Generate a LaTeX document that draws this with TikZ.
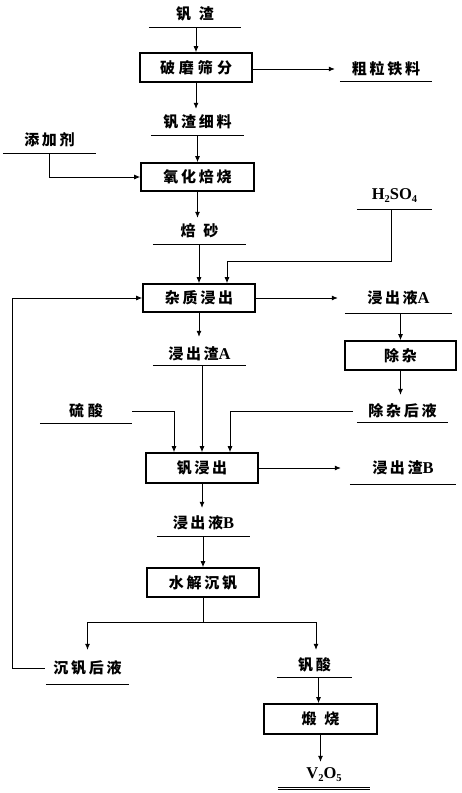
\documentclass[tikz,border=0pt]{standalone}
\usepackage{fontspec}
\usetikzlibrary{arrows.meta}
\setmainfont{Liberation Serif}
\newfontfamily\cjk[LetterSpace=18]{Noto Sans CJK SC}
\newcommand\cjkf{\fontsize{15}{15}\selectfont\cjk\bfseries}
\newcommand\lat[1]{{\fontsize{16.5}{16.5}\selectfont\rmfamily\bfseries #1}}
\newcommand\sbs[1]{\raisebox{-3pt}{\fontsize{10.5}{10.5}\selectfont\rmfamily\bfseries #1}}
\begin{document}
\begin{tikzpicture}[x=1pt,y=-1pt,
  proc/.style={draw, line width=1.7pt, minimum width=112pt, minimum height=29pt, inner sep=0pt, font=\cjkf},
  mat/.style={inner sep=0pt, font=\cjkf},
  arr/.style={-{Latex[length=6pt,width=5pt]}, line width=0.8pt},
  ln/.style={line width=0.8pt}]
\useasboundingbox[fill=white] (0,0) rectangle (461,793);
% process boxes
\node[proc] (b1) at (196,67.5) {破\hspace{4pt}磨\hspace{4pt}筛\hspace{4pt}分};
\node[proc, minimum width=113pt, minimum height=28pt] (b2) at (197.5,177) {氧化焙烧};
\node[proc, minimum height=28pt] (b3) at (199,298) {杂质浸出};
\node[proc, minimum width=111pt] (b4) at (400.5,355.5) {除杂};
\node[proc, minimum height=30pt] (b5) at (202,468) {钒浸出};
\node[proc] (b6) at (203,582.5) {水解沉钒};
\node[proc, minimum width=113pt, minimum height=30pt] (b7) at (320.5,719) {煅\hspace{8pt}烧};
% material labels
\node[mat, minimum width=92pt, minimum height=26pt] (v0) at (195,14) {钒\hspace{8pt}渣};
\node[mat, minimum width=92pt, minimum height=24pt] (coarse) at (386,69) {粗粒铁料};
\node[mat, minimum width=93pt, minimum height=26pt] (fine) at (197.5,122) {钒渣细料};
\node[mat, minimum width=93pt, minimum height=26pt] (add) at (49.5,140) {添加剂};
\node[mat, minimum width=75pt, minimum height=26pt] (h2so4) at (394.5,196) {\lat{H\sbs{2}SO\sbs{4}}};
\node[mat, minimum width=93pt, minimum height=26pt] (roast) at (199.5,231) {焙\hspace{8pt}砂};
\node[mat, minimum width=107pt, minimum height=30pt] (leachA) at (398.5,298) {浸出液\lat{A}};
\node[mat, minimum width=93pt, minimum height=22pt] (resA) at (199.5,354) {浸出渣\lat{A}};
\node[mat, minimum width=91pt, minimum height=22pt] (after) at (402.5,411) {除杂后液};
\node[mat, minimum width=92pt, minimum height=24pt] (acid) at (86,411) {硫\hspace{4pt}酸};
\node[mat, minimum width=106pt, minimum height=32pt] (resB) at (403,468) {浸出渣\lat{B}};
\node[mat, minimum width=93pt, minimum height=26pt] (liqB) at (203.5,523) {浸出液\lat{B}};
\node[mat, minimum width=83pt, minimum height=32pt] (post) at (87.5,668) {沉钒后液};
\node[mat, minimum width=75pt, minimum height=24pt] (vacid) at (314.5,665) {钒酸};
\node[mat, minimum width=92pt, minimum height=24pt] (v2o5) at (324,775) {\lat{V\sbs{2}O\sbs{5}}};
% underlines
\foreach \n in {v0,coarse,fine,add,h2so4,roast,leachA,resA,after,acid,resB,liqB,post,vacid,v2o5}
  \draw[ln] (\n.south west) -- (\n.south east);
\draw[ln] ([yshift=-2pt]v2o5.south west) -- ([yshift=-2pt]v2o5.south east);
% connectors
\draw[arr] (v0.south -| b1.north) -- (b1.north);
\draw[arr] (b1.east |- coarse) -- ([xshift=-5pt]coarse.west);
\draw[arr] (b1.south) -- (b1.south |- fine.north);
\draw[arr] (fine.south -| b2.north) -- (b2.north);
\draw[arr] (add.south) |- (b2.west);
\draw[arr] (b2.south) -- (b2.south |- roast.north);
\draw[arr] (roast.south -| b3.north) -- (b3.north);
\draw[arr] ([xshift=-3pt]h2so4.south) -- ++(0,52) -| ([xshift=28pt]b3.north);
\draw[arr] (b3.east) -- ([xshift=-7pt]leachA.west);
\draw[arr] (leachA.south -| b4.north) -- (b4.north);
\draw[arr] (b3.south) -- ([yshift=6pt]b3.south |- resA.north);
\draw[arr] (resA.south -| b5.north) -- (b5.north);
\draw[arr] (b4.south) -- ([yshift=5pt]b4.south |- after.north);
\draw[arr] ([xshift=-4pt]after.west) -| ([xshift=28pt]b5.north);
\draw[arr] (acid.east) -| ([xshift=-28pt]b5.north);
\draw[arr] (b5.east) -- ([xshift=-9pt]resB.west);
\draw[arr] (b5.south) -- ([yshift=2pt]b5.south |- liqB.north);
\draw[arr] (liqB.south -| b6.north) -- (b6.north);
\draw[ln] (b6.south) -- ++(0,25) coordinate (split);
\draw[arr] (split) -| ([yshift=2pt]post.north);
\draw[arr] (split) -| ([xshift=1.5pt,yshift=3pt]vacid.north);
\coordinate (fbx) at (13,0);
\draw[arr] ([xshift=-1pt]post.west) -- ([xshift=-1pt]post.west -| fbx) |- (b3.west);
\draw[arr] ([xshift=4pt]vacid.south) -- ([xshift=4pt]vacid.south |- b7.north);
\draw[arr] (b7.south) -- ([yshift=1pt]b7.south |- v2o5.north);
\end{tikzpicture}
\end{document}
